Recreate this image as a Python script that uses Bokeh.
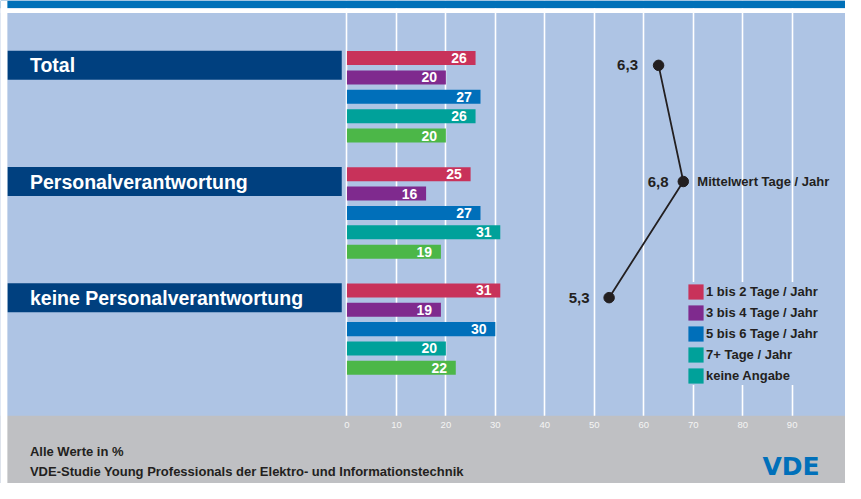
from bokeh.plotting import figure
from bokeh.models import (ColumnDataSource, Range1d, FixedTicker, Grid, LabelSet,
                          Legend, LegendItem, Label, BoxAnnotation)
from bokeh.core.properties import value
from bokeh.embed import file_html
from bokeh.resources import INLINE

# ---------------- data ----------------
groups = ["Total", "Personalverantwortung", "keine Personalverantwortung"]
series = ["1 bis 2 Tage / Jahr", "3 bis 4 Tage / Jahr", "5 bis 6 Tage / Jahr",
          "7+ Tage / Jahr", "keine Angabe"]
share_1_2 = [26, 25, 31]
share_3_4 = [20, 16, 19]
share_5_6 = [27, 27, 30]
share_7plus = [26, 31, 20]
share_none = [20, 19, 22]
mean_days = [6.3, 6.8, 5.3]
mean_labels = ["6,3", "6,8", "5,3"]
mean_caption = "Mittelwert Tage / Jahr"
x_ticks = [0, 10, 20, 30, 40, 50, 60, 70, 80, 90]
x_tick_labels = ["0", "10", "20", "30", "40", "50", "60", "70", "80", "90"]
note = "Alle Werte in %"
source_note = "VDE-Studie Young Professionals der Elektro- und Informationstechnik"
logo = "VDE"

# ---------------- styles ----------------
PANEL = "#aec4e4"
NAVY = "#00407f"
STRIP = "#0070b8"
FOOT = "#bfc0c3"
DARK = "#231f20"
bar_colors = ["#c8325a", "#7f2a8e", "#006fba", "#00a19a", "#4cb748"]
legend_renderer_index = [0, 1, 2, 3, 3]   # the reference shows "keine Angabe" in teal
FONT_S = "Liberation Sans"
FONT = value(FONT_S)

W, H = 845, 483
x_start, x_end = -70.04, 100.79        # percent axis; panel starts at -68.65
panel_left = -68.65
band_right = -1.05
y_top, y_bottom = -2.975, 21.975       # bar slots (top -> bottom)
strip_end, gap_end, panel_end = -2.575, -2.325, 18.475
tick_label_y = 18.975
SLOTS = 6                              # 5 bars + gap per group

p = figure(width=W, height=H,
           x_range=Range1d(x_start, x_end), y_range=Range1d(y_bottom, y_top),
           output_backend="svg", toolbar_location=None,
           x_axis_location=None, y_axis_location=None,
           min_border_left=0, min_border_right=0, min_border_top=0, min_border_bottom=0,
           background_fill_color=PANEL, border_fill_color="white", outline_line_color=None)
p.center = [r for r in p.center if not isinstance(r, Grid)]

p.add_layout(Grid(dimension=0, ticker=FixedTicker(ticks=x_ticks),
                  grid_line_color="white", grid_line_width=1.6))

# frame decorations: footer, top strip, left margin
p.add_layout(BoxAnnotation(top=panel_end, bottom=y_bottom, fill_color=FOOT,
                           fill_alpha=1, line_color=None))
p.add_layout(BoxAnnotation(top=y_top, bottom=strip_end, fill_color=STRIP,
                           fill_alpha=1, line_color=None))
p.add_layout(BoxAnnotation(top=strip_end, bottom=gap_end, fill_color="white",
                           fill_alpha=1, line_color=None))
p.add_layout(BoxAnnotation(left=x_start, right=panel_left, top=y_top, bottom=y_bottom,
                           fill_color="white", fill_alpha=1, line_color=None))

# tick labels along the percent scale
tick_src = ColumnDataSource(dict(x=x_ticks, y=[tick_label_y] * len(x_ticks), t=x_tick_labels))
p.add_layout(LabelSet(x="x", y="y", text="t", source=tick_src, text_align="center",
                      text_baseline="middle", text_color="#f4f4f4",
                      text_font=FONT, text_font_size="9.5px"))

# group bands
band_y = [g * SLOTS + 0.375 for g in range(len(groups))]
band_src = ColumnDataSource(dict(y=band_y, name=groups))
p.hbar(y="y", left=panel_left, right=band_right, height=1.5, source=band_src,
       fill_color=NAVY, line_color=None)
p.text(x=panel_left, y="y", text="name", source=band_src, x_offset=22.6,
       text_baseline="middle", text_align="left", text_color="white",
       text_font=FONT, text_font_style="bold", text_font_size="19.5px")

# bars
all_series = [share_1_2, share_3_4, share_5_6, share_7plus, share_none]
bar_renderers = []
for s, vals in enumerate(all_series):
    src = ColumnDataSource(dict(y=[g * SLOTS + s for g in range(len(groups))],
                                v=vals, t=[str(v) for v in vals]))
    r = p.hbar(y="y", left=0, right="v", height=0.725, source=src,
               fill_color=bar_colors[s], line_color=None)
    bar_renderers.append(r)
    p.text(x="v", y="y", text="t", source=src, x_offset=-8.8,
           text_align="right", text_baseline="middle", text_color="white",
           text_font=FONT, text_font_style="bold", text_font_size="14px")

# mean line (days placed on the percent scale x10, as in the original)
mean_src = ColumnDataSource(dict(x=[d * 10 for d in mean_days], y=band_y,
                                 t=mean_labels, dx=[-20.6, -14.7, -19.6]))
p.line(x="x", y="y", source=mean_src, line_color=DARK, line_width=1.8)
p.scatter(x="x", y="y", source=mean_src, size=10.5, fill_color=DARK, line_color=DARK)
p.text(x="x", y="y", text="t", source=mean_src, x_offset="dx",
       text_align="right", text_baseline="middle", text_color=DARK,
       text_font=FONT, text_font_style="bold", text_font_size="15px")
p.text(x=[mean_days[1] * 10], y=[band_y[1]], text=[mean_caption], x_offset=14,
       text_align="left", text_baseline="middle", text_color=DARK,
       text_font=FONT, text_font_style="bold", text_font_size="13px")

# legend
legend = Legend(items=[LegendItem(label=series[i],
                                  renderers=[bar_renderers[legend_renderer_index[i]]])
                       for i in range(len(series))],
                location=(686, 98), orientation="vertical",
                background_fill_color=PANEL, background_fill_alpha=1,
                border_line_color=None, padding=4, spacing=2, margin=0,
                glyph_width=19, glyph_height=19, label_height=19, label_standoff=1,
                label_text_font=FONT_S, label_text_font_style="bold",
                label_text_font_size="13px", label_text_color=DARK)
p.add_layout(legend)

# footer texts
p.add_layout(Label(x=29.4, y=31.9, x_units="screen", y_units="screen", text=note,
                   text_baseline="middle", text_color=DARK, text_font=FONT_S,
                   text_font_style="bold", text_font_size="13px"))
p.add_layout(Label(x=29.4, y=12.1, x_units="screen", y_units="screen", text=source_note,
                   text_baseline="middle", text_color=DARK, text_font=FONT_S,
                   text_font_style="bold", text_font_size="13px"))
p.add_layout(Label(x=790.5, y=17, x_units="screen", y_units="screen", text=logo,
                   text_align="center", text_baseline="middle", text_color="#0070ba",
                   text_font="DejaVu Sans", text_font_style="bold",
                   text_font_size="25px"))

open("out.html", "w").write(file_html(p, INLINE))
